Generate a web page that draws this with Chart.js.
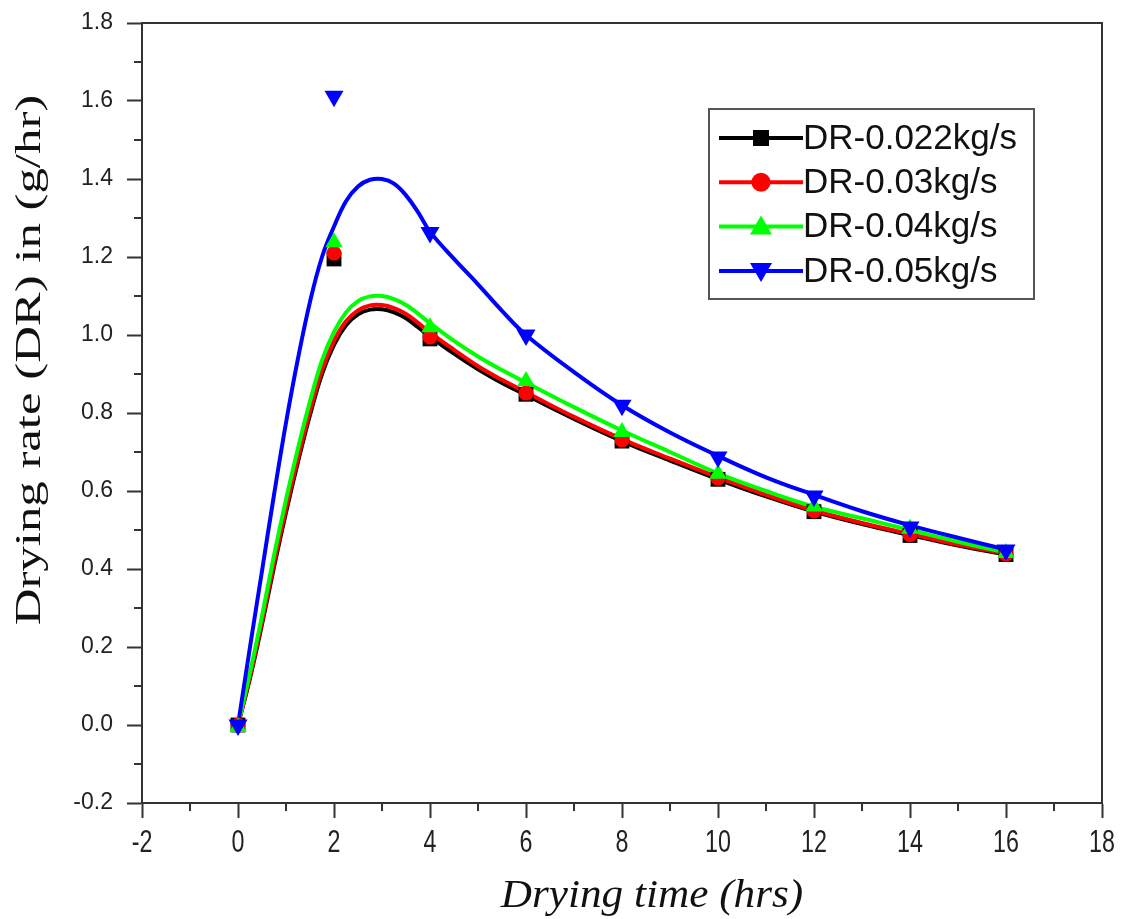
<!DOCTYPE html>
<html>
<head>
<meta charset="utf-8">
<title>Drying rate</title>
<script src="https://cdn.jsdelivr.net/npm/chart.js@4.4.1/dist/chart.umd.min.js"></script>
<style>
  body { margin: 0; background: #fff; }
  #wrap { width: 1122px; height: 919px; position: relative; }
</style>
</head>
<body>
<div id="wrap"><canvas id="myChart"></canvas></div>
<script>
'use strict';

// measured points (markers)
let dryTime = [0, 2, 4, 6, 8, 10, 12, 14, 16];
let dr022 = [0, 1.195, 0.99, 0.848, 0.728, 0.63, 0.547, 0.486, 0.437];
let dr03 = [0, 1.21, 0.995, 0.851, 0.731, 0.633, 0.549, 0.488, 0.438];
let dr04 = [-0.005, 1.238, 1.02, 0.882, 0.751, 0.644, 0.56, 0.503, 0.441];
let dr05 = [0, 1.612, 1.263, 1.0, 0.82, 0.687, 0.587, 0.508, 0.449];

// fitted curves
let fitTime = [0, 0.25, 0.5, 0.75, 1, 1.25, 1.5, 1.75, 2, 2.25, 2.5, 2.75, 3, 3.25, 3.5, 3.75, 4, 4.5, 5, 5.5, 6, 7, 8, 9, 10, 11, 12, 13, 14, 15, 16];
let fit022 = [0, 0.12, 0.258, 0.405, 0.545, 0.675, 0.795, 0.9, 0.975, 1.025, 1.053, 1.065, 1.066, 1.058, 1.043, 1.02, 0.996, 0.952, 0.912, 0.877, 0.846, 0.785, 0.728, 0.678, 0.63, 0.586, 0.547, 0.515, 0.487, 0.46, 0.437];
let fit03 = [0, 0.125, 0.265, 0.415, 0.555, 0.685, 0.805, 0.91, 0.985, 1.035, 1.063, 1.076, 1.077, 1.069, 1.054, 1.031, 1.006, 0.962, 0.92, 0.885, 0.853, 0.79, 0.733, 0.683, 0.635, 0.59, 0.55, 0.518, 0.49, 0.463, 0.44];
let fit04 = [0, 0.135, 0.28, 0.435, 0.578, 0.71, 0.83, 0.935, 1.008, 1.058, 1.087, 1.099, 1.1, 1.092, 1.077, 1.055, 1.03, 0.985, 0.945, 0.91, 0.878, 0.815, 0.755, 0.7, 0.645, 0.6, 0.56, 0.53, 0.5, 0.47, 0.442];
let fit05 = [0, 0.2, 0.395, 0.59, 0.775, 0.94, 1.085, 1.2, 1.278, 1.343, 1.381, 1.398, 1.4, 1.388, 1.358, 1.315, 1.265, 1.195, 1.13, 1.062, 1.0, 0.905, 0.82, 0.75, 0.69, 0.635, 0.59, 0.548, 0.512, 0.48, 0.45];

let seriesNames = ['DR-0.022kg/s', 'DR-0.03kg/s', 'DR-0.04kg/s', 'DR-0.05kg/s'];
let seriesColors = ['#000000', '#ff0000', '#00ff00', '#0000ff'];
let seriesMarkers = ['square', 'circle', 'triangle', 'down'];

let xTickLabels = ['-2', '0', '2', '4', '6', '8', '10', '12', '14', '16', '18'];
let xTickValues = [-2, 0, 2, 4, 6, 8, 10, 12, 14, 16, 18];
let xMinorTicks = [-1, 1, 3, 5, 7, 9, 11, 13, 15, 17];
let yMinorTicks = [-0.1, 0.1, 0.3, 0.5, 0.7, 0.9, 1.1, 1.3, 1.5, 1.7];

function toPoints(xs, ys) {
  return xs.map((x, i) => ({ x: x, y: ys[i] }));
}

// draws one marker shape, used by the legend
function drawMarker(ctx, kind, x, y, color) {
  ctx.fillStyle = color;
  ctx.beginPath();
  if (kind === 'square') {
    ctx.rect(x - 8, y - 8, 16, 16);
  } else if (kind === 'circle') {
    ctx.arc(x, y, 9.5, 0, Math.PI * 2);
  } else if (kind === 'triangle') {
    ctx.moveTo(x, y - 11);
    ctx.lineTo(x + 11, y + 8);
    ctx.lineTo(x - 11, y + 8);
  } else {
    ctx.moveTo(x, y + 11);
    ctx.lineTo(x + 11, y - 8);
    ctx.lineTo(x - 11, y - 8);
  }
  ctx.closePath();
  ctx.fill();
}

let extrasPlugin = {
  id: 'extras',
  afterDraw(chart) {
    let ctx = chart.ctx;
    let area = chart.chartArea;
    let xs = chart.scales.x;
    let ys = chart.scales.y;
    ctx.save();

    // top and right side of the frame
    ctx.strokeStyle = '#333';
    ctx.lineWidth = 2;
    ctx.beginPath();
    ctx.moveTo(area.left - 1, area.top);
    ctx.lineTo(area.right, area.top);
    ctx.lineTo(area.right, area.bottom + 1);
    ctx.stroke();

    // minor ticks
    ctx.beginPath();
    xMinorTicks.forEach(v => {
      let px = Math.round(xs.getPixelForValue(v));
      ctx.moveTo(px, area.bottom);
      ctx.lineTo(px, area.bottom + 8);
    });
    yMinorTicks.forEach(v => {
      let py = Math.round(ys.getPixelForValue(v));
      ctx.moveTo(area.left - 8, py);
      ctx.lineTo(area.left, py);
    });
    ctx.stroke();

    // x tick labels (narrow)
    ctx.fillStyle = '#222';
    ctx.font = '31px "Liberation Sans", Arial, sans-serif';
    ctx.textAlign = 'center';
    ctx.textBaseline = 'middle';
    xTickValues.forEach((v, i) => {
      ctx.save();
      ctx.translate(xs.getPixelForValue(v), area.bottom + 40);
      ctx.scale(0.75, 1);
      ctx.fillText(xTickLabels[i], 0, 0);
      ctx.restore();
    });

    // axis titles
    ctx.fillStyle = '#111';
    ctx.save();
    ctx.font = 'italic 40px "Liberation Serif", "Times New Roman", serif';
    ctx.translate((area.left + area.right) / 2 + 30, 896);
    ctx.scale(1.08, 1);
    ctx.fillText('Drying time (hrs)', 0, 0);
    ctx.restore();

    ctx.save();
    ctx.font = '40px "Liberation Serif", "Times New Roman", serif';
    ctx.translate(30, 360);
    ctx.rotate(-Math.PI / 2);
    ctx.scale(1.27, 0.92);
    ctx.fillText('Drying rate (DR) in (g/hr)', 0, 0);
    ctx.restore();

    // legend box
    ctx.strokeStyle = '#555';
    ctx.lineWidth = 2;
    ctx.strokeRect(709, 109, 325, 190);
    ctx.textAlign = 'left';
    ctx.font = '35px "Liberation Sans", Arial, sans-serif';
    for (let i = 0; i < seriesNames.length; i++) {
      let rowY = 138 + i * 44.3;
      ctx.strokeStyle = seriesColors[i];
      ctx.lineWidth = 4;
      ctx.beginPath();
      ctx.moveTo(719, rowY);
      ctx.lineTo(803, rowY);
      ctx.stroke();
      drawMarker(ctx, seriesMarkers[i], 761, rowY, seriesColors[i]);
      ctx.fillStyle = '#111';
      ctx.fillText(seriesNames[i], 803, rowY + 1);
    }
    ctx.restore();
  }
};

let curveSets = [fit022, fit03, fit04, fit05];
let pointSets = [dr022, dr03, dr04, dr05];
let styleOf = {
  square: { pointStyle: 'rect', radius: 10.5, rotation: 0 },
  circle: { pointStyle: 'circle', radius: 7.5, rotation: 0 },
  triangle: { pointStyle: 'triangle', radius: 10, rotation: 0 },
  down: { pointStyle: 'triangle', radius: 11, rotation: 180 }
};

let datasets = [];
for (let i = 0; i < seriesNames.length; i++) {
  datasets.push({
    type: 'line',
    label: seriesNames[i] + ' fit',
    data: toPoints(fitTime, curveSets[i]),
    borderColor: seriesColors[i],
    borderWidth: 4,
    pointRadius: 0,
    tension: 0.4,
    fill: false,
    order: 7 - i
  });
}
for (let i = 0; i < seriesNames.length; i++) {
  let st = styleOf[seriesMarkers[i]];
  datasets.push({
    type: 'scatter',
    label: seriesNames[i],
    data: toPoints(dryTime, pointSets[i]),
    showLine: false,
    pointStyle: st.pointStyle,
    pointRadius: st.radius,
    rotation: st.rotation,
    backgroundColor: seriesColors[i],
    borderColor: seriesColors[i],
    borderWidth: 0,
    order: 3 - i
  });
}

let config = {
  type: 'scatter',
  data: { datasets: datasets },
  options: {
    responsive: true,
    maintainAspectRatio: false,
    animation: false,
    layout: { padding: { top: 23, right: 20, left: 0, bottom: 0 } },
    plugins: { legend: { display: false }, tooltip: { enabled: false } },
    scales: {
      x: {
        type: 'linear',
        min: -2,
        max: 18,
        ticks: { stepSize: 2, display: false },
        grid: { drawOnChartArea: false, drawTicks: true, tickLength: 15, tickWidth: 2, tickColor: '#333' },
        border: { display: true, color: '#333', width: 2 },
        afterFit: scale => {
          scale.height = 116;
          scale.paddingLeft = 0;
          scale.paddingRight = 0;
        }
      },
      y: {
        type: 'linear',
        min: -0.2,
        max: 1.8,
        ticks: {
          stepSize: 0.2,
          padding: 14,
          color: '#222',
          font: { family: '"Liberation Sans", Arial, sans-serif', size: 23 },
          callback: v => v.toFixed(1)
        },
        grid: { drawOnChartArea: false, drawTicks: true, tickLength: 15, tickWidth: 2, tickColor: '#333' },
        border: { display: true, color: '#333', width: 2 },
        afterFit: scale => {
          scale.width = 142;
          scale.paddingTop = 0;
          scale.paddingBottom = 0;
        }
      }
    }
  },
  plugins: [extrasPlugin]
};

const ctx = document.getElementById('myChart').getContext('2d');
const myChart = new Chart(ctx, config);
</script>
</body>
</html>
